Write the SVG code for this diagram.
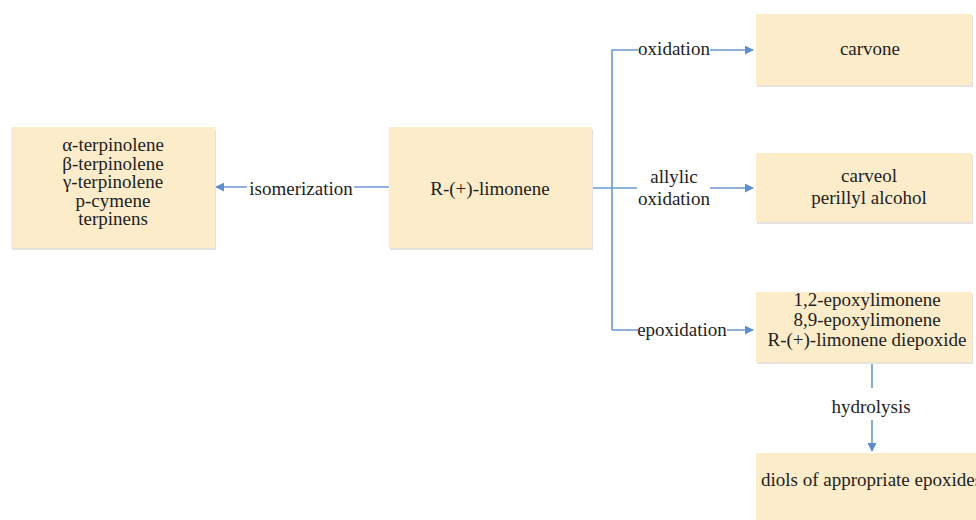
<svg xmlns="http://www.w3.org/2000/svg" width="976" height="520" viewBox="0 0 976 520">
<defs>
<marker id="ah" viewBox="0 0 10 10" refX="9" refY="5" markerWidth="9" markerHeight="9" markerUnits="userSpaceOnUse" orient="auto">
<path d="M0,0 L10,5 L0,10 Z" fill="#5d8fd0"/>
</marker>
</defs>
<rect width="976" height="520" fill="#fff"/>
<g id="connectors" fill="none" stroke="#6b98d0" stroke-width="1.6">
<path d="M389,187 H216" marker-end="url(#ah)"/>
<path d="M592,188 H637"/>
<path d="M612,330 V50 H753" marker-end="url(#ah)"/>
<path d="M710,188 H753" marker-end="url(#ah)"/>
<path d="M612,330 H753" marker-end="url(#ah)"/>
<path d="M872,362 V388"/>
<path d="M872,420 V451" marker-end="url(#ah)"/>
</g>
<g id="labels" font-family="Times New Roman, Liberation Serif, serif" font-size="19" fill="#1e1e1e" text-anchor="middle">
<rect x="247" y="178" width="107" height="20" fill="#fff"/>
<rect x="638" y="40" width="72" height="20" fill="#fff"/>
<rect x="638" y="320" width="89" height="20" fill="#fff"/>
<text x="301" y="195">isomerization</text>
<text x="674" y="55">oxidation</text>
<text x="674" y="183">allylic</text>
<text x="674" y="205">oxidation</text>
<text x="682" y="336">epoxidation</text>
<text x="871" y="413">hydrolysis</text>
</g>
<g font-family="Times New Roman, Liberation Serif, serif" font-size="19" fill="#1e1e1e" text-anchor="middle">
<g id="terpinolenes">
<rect x="12" y="129" width="204" height="121" fill="#e6e3de"/>
<rect x="11" y="127" width="204" height="121" fill="#fcecc9"/>
<text x="113" y="151">α-terpinolene</text>
<text x="113" y="169.5">β-terpinolene</text>
<text x="113" y="188">γ-terpinolene</text>
<text x="113" y="206.5">p-cymene</text>
<text x="113" y="225">terpinens</text>
</g>
<g id="limonene">
<rect x="390" y="129" width="203" height="121" fill="#e6e3de"/>
<rect x="389" y="127" width="203" height="121" fill="#fcecc9"/>
<text x="490" y="195">R-(+)-limonene</text>
</g>
<g id="carvone">
<rect x="757" y="16" width="216" height="71" fill="#e6e3de"/>
<rect x="756" y="14" width="216" height="71" fill="#fcecc9"/>
<text x="870" y="55">carvone</text>
</g>
<g id="carveol">
<rect x="757" y="155" width="216" height="69" fill="#e6e3de"/>
<rect x="756" y="153" width="216" height="69" fill="#fcecc9"/>
<text x="869" y="182">carveol</text>
<text x="869" y="204">perillyl alcohol</text>
</g>
<g id="epoxides">
<rect x="757" y="294" width="216" height="70" fill="#e6e3de"/>
<rect x="756" y="292" width="216" height="70" fill="#fcecc9"/>
<text x="867" y="306">1,2-epoxylimonene</text>
<text x="867" y="326">8,9-epoxylimonene</text>
<text x="867" y="346">R-(+)-limonene diepoxide</text>
</g>
<g id="diols">
<rect x="756" y="453" width="230" height="80" fill="#fcecc9"/>
<text x="761" y="486" text-anchor="start">diols of appropriate epoxides</text>
</g>
</g>
</svg>
